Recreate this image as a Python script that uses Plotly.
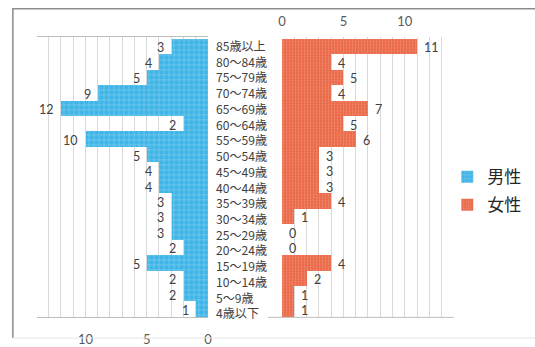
import plotly.graph_objects as go

categories = ["85歳以上", "80～84歳", "75～79歳", "70～74歳", "65～69歳", "60～64歳",
              "55～59歳", "50～54歳", "45～49歳", "40～44歳", "35～39歳", "30～34歳",
              "25～29歳", "20～24歳", "15～19歳", "10～14歳", "5～9歳", "4歳以下"]
male = [3, 4, 5, 9, 12, 2, 10, 5, 4, 4, 3, 3, 3, 2, 5, 2, 2, 1]
female = [11, 4, 5, 4, 7, 5, 6, 3, 3, 3, 4, 1, 0, 0, 4, 2, 1, 1]
axis_ticks = [0, 5, 10]

W, H = 535, 347
FONT = "Noto Sans CJK JP"
NUMFONT = "Lato"
TXT = "#404040"
GRID = "#D9D9D9"

fig = go.Figure()
fig.add_trace(go.Bar(
    name="男性", y=categories, x=male, orientation="h", xaxis="x", yaxis="y",
    legendgroup="m",
    marker=dict(color="#45B7E8", line=dict(width=0),
                pattern=dict(shape="+", fgcolor="#A8DDF5", bgcolor="#3FB4E6", size=5, solidity=0.3)),
    hoverinfo="x+y",
))
fig.add_trace(go.Bar(
    name="女性", y=categories, x=female, orientation="h", xaxis="x2", yaxis="y",
    legendgroup="f",
    marker=dict(color="#EA6A4C", line=dict(width=0),
                pattern=dict(shape=".", fgcolor="#F6B29A", bgcolor="#E8603F", size=3, solidity=0.45)),
    hoverinfo="x+y",
))

male_dom = [33 / W, 207 / W]
fem_dom = [282.3 / W, 456.7 / W]
y_dom = [1 - 322 / H, 1 - 38 / H]

fig.update_layout(
    width=W, height=H, margin=dict(l=0, r=0, t=0, b=0),
    paper_bgcolor="white", plot_bgcolor="white",
    font=dict(family=FONT, color=TXT, size=12),
    bargap=0,
    showlegend=True,
    legend=dict(x=450 / W, y=1 - 194 / H, yanchor="middle", xanchor="left",
                font=dict(size=17, color="#262626", family=FONT),
                bgcolor="rgba(0,0,0,0)", itemwidth=30, tracegroupgap=3),
    xaxis=dict(domain=male_dom, range=[14, 0], tickvals=axis_ticks, side="bottom",
               showgrid=True, gridcolor=GRID, gridwidth=1,
               minor=dict(dtick=1, showgrid=True, gridcolor=GRID, gridwidth=1),
               showline=True, linecolor="#BFBFBF", linewidth=1, mirror=True,
               zeroline=False, tickfont=dict(size=13, color="#595959", family=NUMFONT),
               ticks="", ticklabelstandoff=10, anchor="y", fixedrange=True),
    xaxis2=dict(domain=fem_dom, range=[0, 14], tickvals=axis_ticks, side="top",
                showgrid=True, gridcolor=GRID, gridwidth=1,
                minor=dict(dtick=1, showgrid=True, gridcolor=GRID, gridwidth=1),
                showline=False, zeroline=False,
                tickfont=dict(size=13, color="#595959", family=NUMFONT),
                ticks="", ticklabelstandoff=8, anchor="y", fixedrange=True),
    yaxis=dict(domain=y_dom, categoryorder="array", categoryarray=categories,
               autorange="reversed", showticklabels=False, showgrid=False,
               zeroline=False, showline=False, fixedrange=True),
)

# data labels, placed through the axes' scales
for c, v in zip(categories, male):
    fig.add_annotation(x=v, xref="x", y=c, yref="y", text=str(v), showarrow=False,
                       xanchor="right", yanchor="middle", xshift=-6, yshift=-1, borderpad=0,
                       font=dict(size=12.5, color=TXT, family=NUMFONT))
for c, v in zip(categories, female):
    fig.add_annotation(x=v, xref="x2", y=c, yref="y", text=str(v), showarrow=False,
                       xanchor="left", yanchor="middle", xshift=6, yshift=-1, borderpad=0,
                       font=dict(size=12.5, color=TXT, family=NUMFONT))

# category labels in the middle, one multi-line text block
fig.add_annotation(x=214 / W, xref="paper", y=0.5, yref="y domain",
                   text="<br>".join(categories), showarrow=False, yshift=-2,
                   xanchor="left", yanchor="middle", align="left", borderpad=0,
                   font=dict(size=12.1, color=TXT, family=FONT))

# female bottom axis line
fig.add_shape(type="line", xref="paper", yref="y domain",
              x0=268 / W, x1=fem_dom[1], y0=0, y1=0,
              line=dict(color="#BFBFBF", width=1))

# outer frame (top and left visible, right beyond edge)
fig.add_shape(type="path", xref="paper", yref="paper",
              path=f"M 1.01 {1 - 9 / H} L {9 / W} {1 - 9 / H} L {9 / W} {1 - 343 / H}",
              line=dict(color="#8C8C8C", width=1.5))
fig.add_shape(type="line", xref="paper", yref="paper",
              x0=9 / W, x1=1.01, y0=1 - 343 / H, y1=1 - 343 / H,
              line=dict(color="#E6E6E6", width=1))

fig.write_html("out.html")
